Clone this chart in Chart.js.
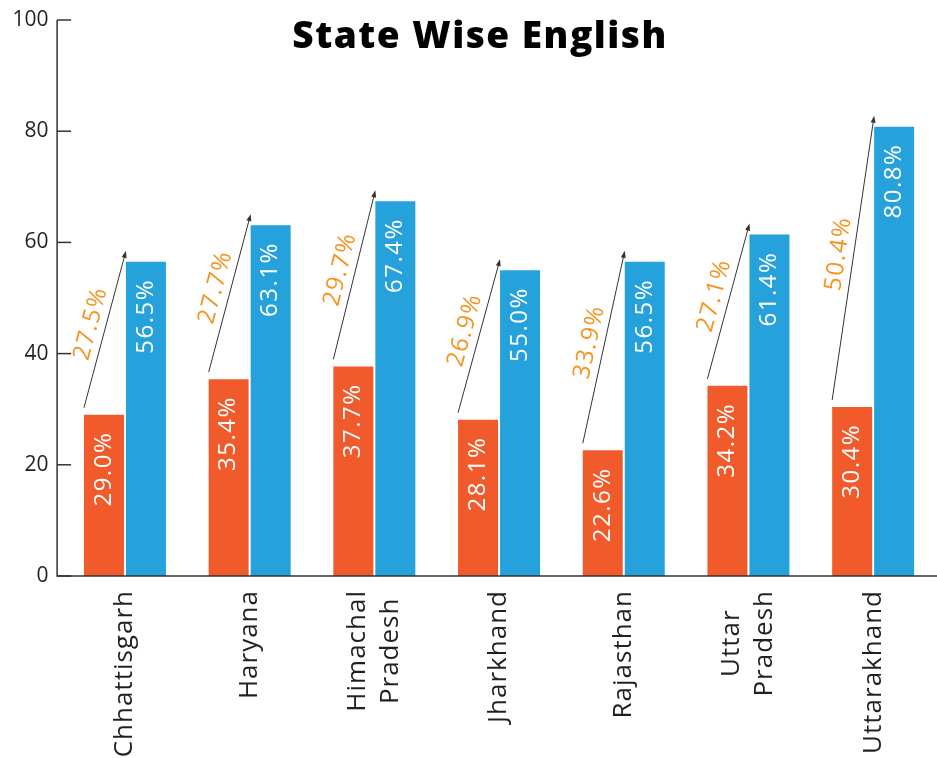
<!DOCTYPE html>
<html>
<head>
<meta charset="utf-8">
<script src="https://cdn.jsdelivr.net/npm/chart.js@4"></script>
<style>
  html, body { margin: 0; padding: 0; background: #fff; }
  #wrap { width: 937px; height: 758px; }
</style>
</head>
<body>
<div id="wrap"><canvas id="stateChart"></canvas></div>
<script>
const states = [["Chhattisgarh"], ["Haryana"], ["Himachal", "Pradesh"], ["Jharkhand"], ["Rajasthan"], ["Uttar", "Pradesh"], ["Uttarakhand"]];
const before = [29.0, 35.4, 37.7, 28.1, 22.6, 34.2, 30.4];
const after = [56.5, 63.1, 67.4, 55.0, 56.5, 61.4, 80.8];
const growth = [27.5, 27.7, 29.7, 26.9, 33.9, 27.1, 50.4];
const yTicks = [0, 20, 40, 60, 80, 100];

const ORANGE = "#f15a2b";
const BLUE = "#25a1db";
const LABEL_ORANGE = "#f7931e";
const INK = "#231f20";
const FONT = "'Open Sans', sans-serif";

// arrows, labels, axes and title drawn on top of the bars
const overlay = {
  id: "overlay",
  afterDatasetsDraw(chart) {
    const { ctx, chartArea, scales: { x, y } } = chart;
    const low = chart.getDatasetMeta(0).data;
    const high = chart.getDatasetMeta(1).data;
    ctx.save();

    // values inside the bars
    ctx.fillStyle = "#fff";
    ctx.font = "500 24px " + FONT;
    ctx.letterSpacing = "1.5px";
    ctx.textAlign = "right";
    ctx.textBaseline = "middle";
    [[low, before], [high, after]].forEach(([bars, vals]) => {
      bars.forEach((b, i) => {
        ctx.save();
        ctx.translate(b.x, b.y + 17);
        ctx.rotate(-Math.PI / 2);
        ctx.fillText(vals[i].toFixed(1) + "%", 0, 0);
        ctx.restore();
      });
    });

    // growth arrows
    low.forEach((b, i) => {
      const h = high[i];
      const x0 = b.x - b.width / 2, y0 = b.y - 7;
      const x1 = h.x - h.width / 2, y1 = h.y - 11;
      const ang = Math.atan2(y1 - y0, x1 - x0);
      ctx.strokeStyle = "#333";
      ctx.fillStyle = "#333";
      ctx.lineWidth = 1;
      ctx.beginPath();
      ctx.moveTo(x0, y0);
      ctx.lineTo(x1 - 5 * Math.cos(ang), y1 - 5 * Math.sin(ang));
      ctx.stroke();
      ctx.beginPath();
      ctx.moveTo(x1, y1);
      ctx.lineTo(x1 - 7 * Math.cos(ang) + 2.5 * Math.sin(ang), y1 - 7 * Math.sin(ang) - 2.5 * Math.cos(ang));
      ctx.lineTo(x1 - 7 * Math.cos(ang) - 2.5 * Math.sin(ang), y1 - 7 * Math.sin(ang) + 2.5 * Math.cos(ang));
      ctx.closePath();
      ctx.fill();

      const mx = (x0 + x1) / 2, my = (y0 + y1) / 2;
      const nx = Math.sin(ang), ny = -Math.cos(ang);
      ctx.save();
      ctx.translate(mx + 15 * nx + 2 * Math.cos(ang), my + 15 * ny + 2 * Math.sin(ang));
      ctx.rotate(ang);
      ctx.fillStyle = LABEL_ORANGE;
      ctx.font = "500 24px " + FONT;
      ctx.letterSpacing = "1.5px";
      ctx.textAlign = "center";
      ctx.textBaseline = "middle";
      ctx.fillText(growth[i].toFixed(1) + "%", 0, 0);
      ctx.restore();
    });

    // axes
    const ax = chartArea.left - 5.5;
    ctx.strokeStyle = "#333";
    ctx.lineWidth = 1.5;
    ctx.beginPath();
    ctx.moveTo(ax, y.getPixelForValue(100));
    ctx.lineTo(ax, y.getPixelForValue(0));
    ctx.lineTo(chart.width, y.getPixelForValue(0));
    ctx.stroke();
    yTicks.forEach(v => {
      const py = y.getPixelForValue(v);
      ctx.beginPath();
      ctx.moveTo(ax, py);
      ctx.lineTo(ax + 14, py);
      ctx.stroke();
    });

    // category labels, rotated, lines centred on each other
    ctx.fillStyle = INK;
    ctx.font = "26px " + FONT;
    ctx.letterSpacing = "1px";
    ctx.textAlign = "center";
    ctx.textBaseline = "middle";
    states.forEach((lines, i) => {
      const cx = x.getPixelForValue(i);
      const w = Math.max(...lines.map(t => ctx.measureText(t).width));
      const cy = y.getPixelForValue(0) + 14 + w / 2;
      lines.forEach((t, k) => {
        ctx.save();
        ctx.translate(cx + (k - (lines.length - 1) / 2) * 33, cy);
        ctx.rotate(-Math.PI / 2);
        ctx.fillText(t, 0, 0);
        ctx.restore();
      });
    });

    // title
    ctx.fillStyle = "#000";
    ctx.font = "800 37px " + FONT;
    ctx.letterSpacing = "1.5px";
    ctx.textAlign = "center";
    ctx.textBaseline = "middle";
    ctx.fillText("State Wise English", 480, 37);
    ctx.restore();
  }
};

new Chart(document.getElementById("stateChart"), {
  type: "bar",
  data: {
    labels: states,
    datasets: [
      { label: "Before", data: before, backgroundColor: ORANGE },
      { label: "After", data: after, backgroundColor: BLUE }
    ]
  },
  options: {
    responsive: true,
    maintainAspectRatio: false,
    animation: false,
    categoryPercentage: 0.6736,
    barPercentage: 0.952,
    layout: { padding: { top: 20, right: 1.5, left: 0, bottom: 0 } },
    plugins: { legend: { display: false }, tooltip: { enabled: false }, title: { display: false } },
    scales: {
      x: {
        grid: { display: false },
        border: { display: false },
        ticks: { display: false },
        afterFit(scale) { scale.height = 182; }
      },
      y: {
        min: 0,
        max: 100,
        afterBuildTicks(scale) { scale.ticks = yTicks.map(v => ({ value: v })); },
        afterFit(scale) { scale.width = 62.6; scale.paddingTop = 0; scale.paddingBottom = 0; },
        grid: { display: false, drawTicks: false },
        border: { display: false },
        ticks: { color: INK, font: { family: FONT, size: 21 }, padding: 14 }
      }
    }
  },
  plugins: [overlay]
});
</script>
</body>
</html>
